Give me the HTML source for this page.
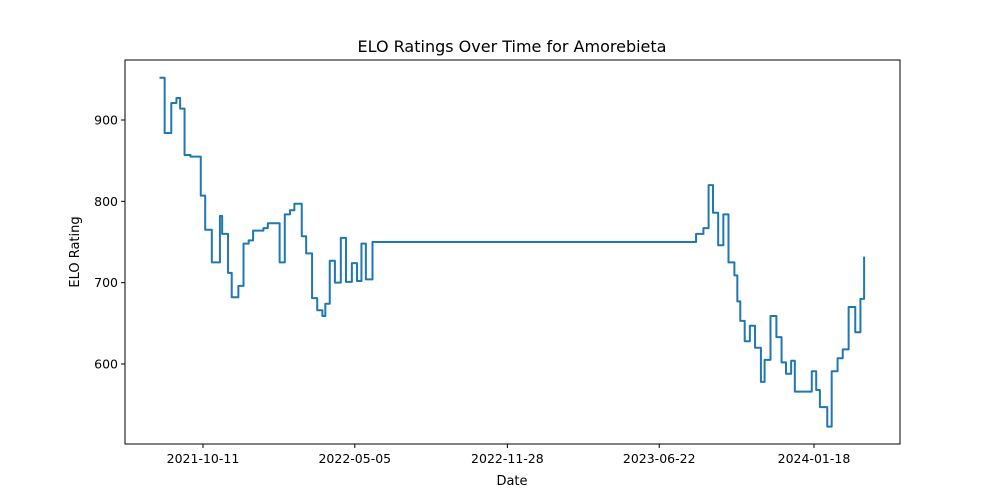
<!DOCTYPE html>
<html><head><meta charset="utf-8"><style>
body{margin:0;background:#fff;}
svg{display:block;font-family:"DejaVu Sans","Liberation Sans",sans-serif;}
</style></head><body>
<svg id="chart" width="1000" height="500"></svg>
<script>
const dayOffsets=[-59,-52,-43,-36,-31,-25,-17,-3,3,12,23,26,34,39,48,55,62,68,82,88,104,111,118,124,134,140,148,155,162,166,172,179,187,194,202,209,215,221,230,669,679,686,692,699,706,713,721,725,729,735,742,749,757,762,770,778,785,791,798,803,826,832,837,847,853,861,868,876,885,892,897];
const ratings=[952,884,921,927,914,857,855,807,765,725,782,760,712,682,696,748,752,764,767,773,725,784,789,797,757,736,681,666,659,674,727,700,755,701,724,702,748,704,750,760,767,820,786,746,784,725,709,677,653,628,647,620,578,605,659,633,602,588,604,566,591,568,547,523,591,607,618,670,639,680,732];
const tickDays=[0,206,413,619,829];
const tickLabels=["2021-10-11","2022-05-05","2022-11-28","2023-06-22","2024-01-18"];
const yTicks=[600,700,800,900];

const L=125,R=900,T=60,B=444;
const xMin=-105.8,xMax=945.7,yMin=501.6,yMax=973.8;
const sx=d=>L+(d-xMin)/(xMax-xMin)*(R-L);
const sy=v=>B-(v-yMin)/(yMax-yMin)*(B-T);
const NS="http://www.w3.org/2000/svg";
const svg=document.getElementById('chart');
function mk(tag,attrs,parent){const e=document.createElementNS(NS,tag);for(const k in attrs)e.setAttribute(k,attrs[k]);(parent||svg).appendChild(e);return e;}

let t=mk('text',{x:512,y:52,'text-anchor':'middle','font-size':16,fill:'#000'});
t.textContent='ELO Ratings Over Time for Amorebieta';



let d='';
for(let i=0;i<dayOffsets.length;i++){
  const x=sx(dayOffsets[i]),y=sy(ratings[i]);
  if(i===0)d+=`M${x},${y}`;else d+=`H${x}V${y}`;
}
let line=mk('path',{d:d,fill:'none',stroke:'#1f77b4','stroke-width':2,'stroke-linejoin':'round'});



let frame=mk('rect',{x:L,y:T,width:R-L,height:B-T,fill:'none',stroke:'#000','stroke-width':1});



tickDays.forEach((dd,i)=>{
  const x=sx(dd);
  const tk=mk('line',{x1:x,x2:x,y1:B,y2:B+4,stroke:'#000'});
  
  
  const lb=mk('text',{x:x,y:B+19,'text-anchor':'middle','font-size':12.5});
  lb.textContent=tickLabels[i];
  
  
});
yTicks.forEach(v=>{
  const y=sy(v);
  const tk=mk('line',{x1:L-4,x2:L,y1:y,y2:y,stroke:'#000'});
  
  
  const lb=mk('text',{x:L-7,y:y+4.5,'text-anchor':'end','font-size':12.5});
  lb.textContent=v;
  
  
});
let xt=mk('text',{x:512,y:485,'text-anchor':'middle','font-size':13});
xt.textContent='Date';


let yt=mk('text',{x:79,y:252,'text-anchor':'middle','font-size':13,transform:'rotate(-90 79 252)'});
yt.textContent='ELO Rating';


</script>
</body></html>
